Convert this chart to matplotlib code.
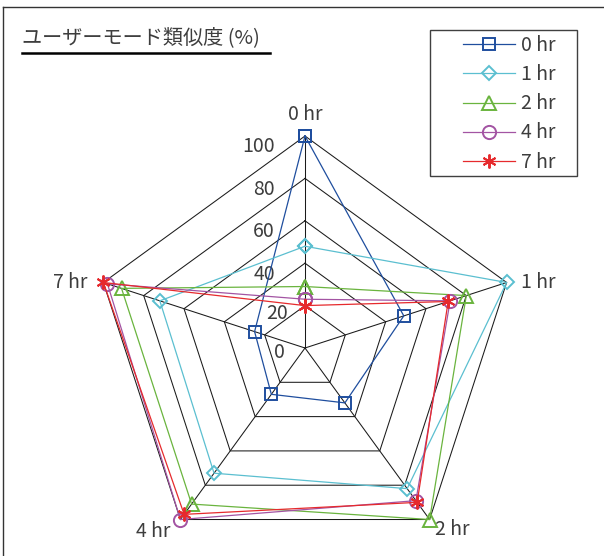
import numpy as np
import matplotlib.pyplot as plt
from matplotlib.lines import Line2D
from matplotlib.patches import Rectangle

plt.rcParams['font.family'] = ['Noto Sans CJK JP', 'DejaVu Sans']

# ======================================================
# DATA
# ======================================================
categories = ["0 hr", "1 hr", "2 hr", "4 hr", "7 hr"]
series = ["0 hr", "1 hr", "2 hr", "4 hr", "7 hr"]
val_0hr = [100, 49, 32, 27, 25]
val_1hr = [48, 100, 82, 73, 72]
val_2hr = [29, 80, 100, 91, 91]
val_4hr = [23, 72, 89, 100, 98]
val_7hr = [20, 71, 90, 97, 100]
rings = [0, 20, 40, 60, 80, 100]
title = "ユーザーモード類似度 (%)"

# ======================================================
# STYLE
# ======================================================
colors = ["#1f4e9e", "#5bbfd0", "#6ab43e", "#a354a3", "#e62a2d"]
markers = ["s", "D", "^", "o", (6, 2, 0)]
msizes = [9, 7, 9.5, 9.5, 10]
txt = "#3d3d3d"
grid = "#1a1a1a"

W, H = 604, 556
fig = plt.figure(figsize=(W / 100, H / 100), dpi=100)

# polar axes placed so the 100 ring matches the reference
cx, cy, R = 305, 348, 212
ax = fig.add_axes([(cx - R) / W, (H - cy - R) / H, 2 * R / W, 2 * R / H],
                  projection='polar')
ax.set_theta_zero_location('N')
ax.set_theta_direction(-1)
ax.set_ylim(0, 100)
ax.grid(False)
ax.spines['polar'].set_visible(False)
ax.set_xticks([])
ax.set_yticks([])
ax.patch.set_alpha(0)

theta = np.linspace(0, 2 * np.pi, len(categories), endpoint=False)
closed = np.append(theta, theta[0])

# pentagon grid + spokes
for r in rings[1:]:
    ax.plot(closed, [r] * len(closed), color=grid, lw=0.75, clip_on=False, zorder=1)
for t in theta:
    ax.plot([t, t], [0, 100], color=grid, lw=0.75, clip_on=False, zorder=1)

# ring labels along the 0 hr spoke
ring_off = {0: (-20, -4), 20: (-17, -8)}
for r in rings:
    dx, dy = ring_off.get(r, (-30, -11))
    ax.annotate(str(r), xy=(0, r), xytext=(dx, dy), textcoords='offset pixels',
                ha='right', va='center', fontsize=14, color=txt, annotation_clip=False)

# category labels
cat_off = [(0, 22, 'center'), (14, 0, 'left'), (5, -10, 'left'),
           (-10, -12, 'right'), (-16, 0, 'right')]
for t, lab, (dx, dy, ha) in zip(theta, categories, cat_off):
    ax.annotate(lab, xy=(t, 100), xytext=(dx, dy), textcoords='offset pixels',
                ha=ha, va='center', fontsize=14, color=txt, annotation_clip=False)

# data series
handles = []
for name, vals, c, m, ms in zip(series, [val_0hr, val_1hr, val_2hr, val_4hr, val_7hr],
                                colors, markers, msizes):
    v = vals + vals[:1]
    ln, = ax.plot(closed, v, color=c, lw=0.9, marker=m, ms=ms, mfc='none',
                  mec=c, mew=1.4, clip_on=False, zorder=3, label=name)
    handles.append(ln)

# legend (frame drawn separately)
fig.legend(handles, series, loc='upper left', bbox_to_anchor=(463 / W, 1 - 35 / H),
           frameon=False, borderpad=0, borderaxespad=0, handlelength=2.68,
           handletextpad=0.3, labelspacing=0.42, fontsize=14, labelcolor=txt)
fig.add_artist(Rectangle((430 / W, 1 - 176 / H), 147 / W, 146 / H,
                         transform=fig.transFigure, fill=False, ec='#404040', lw=1))

# title with underline
fig.text(22 / W, 1 - 38 / H, title, ha='left', va='center', fontsize=14.5, color=txt)
fig.add_artist(Line2D([22 / W, 270 / W], [1 - 53 / H] * 2, color='black', lw=1.8))

# outer border (top + left)
fig.add_artist(Line2D([3 / W, 3 / W], [0, 1 - 7 / H], color='#333333', lw=1))
fig.add_artist(Line2D([3 / W, 1], [1 - 7 / H] * 2, color='#333333', lw=1))

fig.savefig('out.png', dpi=100)
